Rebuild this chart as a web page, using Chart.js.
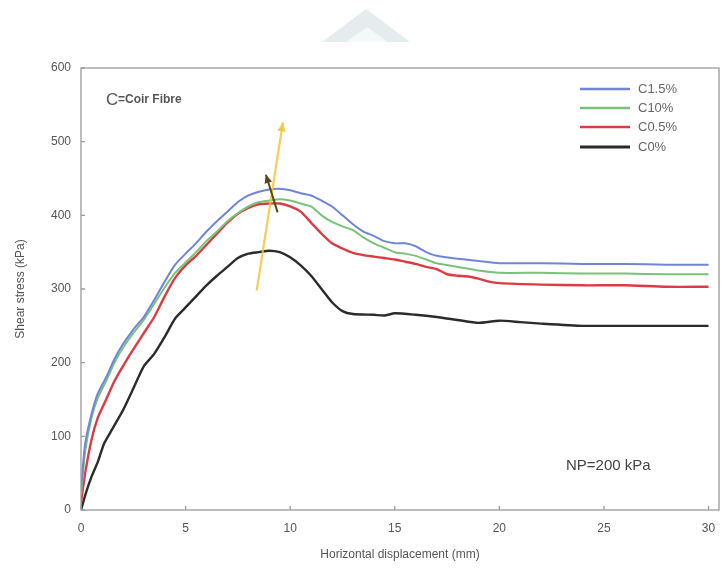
<!DOCTYPE html>
<html>
<head>
<meta charset="utf-8">
<script src="https://cdn.jsdelivr.net/npm/chart.js@4.4.1/dist/chart.umd.min.js"></script>
<style>
  html, body { margin: 0; padding: 0; background: #fff; }
  #wrap { width: 721px; height: 576px; position: relative; }
</style>
</head>
<body>
<div id="wrap"><canvas id="shear"></canvas></div>
<script>
// series data (x = horizontal displacement mm, y = shear stress kPa)
var xC15 = [0, 0.2, 0.5, 0.8, 1.2, 1.6, 2.0, 2.5, 3.0, 3.5, 4.0, 4.5, 5.0, 5.5, 6.0, 6.5, 7.0, 7.5, 8.0, 8.5, 9.0, 9.5, 10.0, 10.5, 11.0, 11.5, 12.0, 12.5, 13.0, 13.5, 14.0, 14.5, 15.0, 15.5, 16.0, 16.5, 17.0, 18.0, 19.0, 20.0, 22.0, 24.0, 26.0, 28.0, 30.0];
var yC15 = [30, 90, 130, 158, 180, 205, 225, 245, 262, 285, 310, 333, 348, 362, 378, 392, 405, 418, 427, 432, 435, 436, 434, 430, 427, 420, 412, 400, 388, 378, 372, 365, 362, 362, 358, 350, 345, 341, 338, 335, 335, 334, 334, 333, 333];

var xC10 = [0, 0.2, 0.5, 0.8, 1.2, 1.6, 2.0, 2.5, 3.0, 3.5, 4.0, 4.5, 5.0, 5.5, 6.0, 6.5, 7.0, 7.5, 8.0, 8.5, 9.0, 9.5, 10.0, 10.5, 11.0, 11.5, 12.0, 12.5, 13.0, 13.5, 14.0, 14.5, 15.0, 15.5, 16.0, 16.5, 17.0, 18.0, 19.0, 20.0, 22.0, 24.0, 26.0, 28.0, 30.0];
var yC10 = [20, 80, 125, 152, 175, 200, 220, 240, 258, 280, 302, 322, 336, 350, 365, 378, 392, 403, 412, 418, 420, 422, 420, 416, 412, 400, 391, 385, 380, 370, 362, 356, 350, 348, 345, 340, 335, 330, 325, 322, 322, 321, 321, 320, 320];

var xC05 = [0, 0.2, 0.5, 0.8, 1.2, 1.6, 2.0, 2.5, 3.0, 3.5, 4.0, 4.5, 5.0, 5.5, 6.0, 6.5, 7.0, 7.5, 8.0, 8.5, 9.0, 9.5, 10.0, 10.5, 11.0, 11.5, 12.0, 12.5, 13.0, 13.5, 14.0, 14.5, 15.0, 15.5, 16.0, 16.5, 17.0, 17.5, 18.0, 18.5, 19.0, 19.5, 20.0, 22.0, 24.0, 26.0, 28.0, 30.0];
var yC05 = [10, 50, 95, 125, 150, 175, 195, 218, 240, 262, 290, 315, 332, 345, 360, 375, 390, 402, 410, 415, 416, 416, 412, 405, 390, 375, 362, 355, 349, 346, 344, 342, 340, 337, 334, 330, 327, 320, 318, 317, 314, 310, 308, 306, 305, 305, 303, 303];

var xC0 = [0, 0.2, 0.5, 0.8, 1.1, 1.5, 2.0, 2.5, 3.0, 3.5, 4.0, 4.5, 5.0, 5.5, 6.0, 6.5, 7.0, 7.5, 8.0, 8.5, 9.0, 9.5, 10.0, 10.5, 11.0, 11.5, 12.0, 12.5, 13.0, 14.0, 14.5, 15.0, 16.0, 17.0, 18.0, 19.0, 20.0, 21.0, 22.0, 24.0, 26.0, 28.0, 30.0];
var yC0 = [0, 20, 45, 65, 90, 110, 135, 165, 195, 212, 235, 260, 275, 290, 305, 318, 330, 342, 348, 350, 352, 350, 343, 332, 318, 300, 282, 270, 266, 265, 264, 267, 265, 262, 258, 254, 257, 255, 253, 250, 250, 250, 250];

var seriesLabels = ["C1.5%", "C10%", "C0.5%", "C0%"];
var xTickValues = [0, 5, 10, 15, 20, 25, 30];

// trend arrows drawn over the curves, in data units [x0, y0, x1, y1]
var yellowArrow = [8.4, 298, 9.65, 526];
var darkArrow = [9.4, 404, 8.84, 455];

function pts(xs, ys) {
    var out = [];
    for (var i = 0; i < xs.length; i++) out.push({x: xs[i], y: ys[i]});
    return out;
}

var colors = ["#6f86d6", "#79c27a", "#dc3b44", "#2b2b2b"];

function arrow(ctx, sx, sy, ex, ey, color, width, head) {
    ctx.save();
    ctx.strokeStyle = color;
    ctx.fillStyle = color;
    ctx.lineWidth = width;
    ctx.beginPath();
    ctx.moveTo(sx, sy);
    ctx.lineTo(ex, ey);
    ctx.stroke();
    var a = Math.atan2(ey - sy, ex - sx);
    ctx.beginPath();
    ctx.moveTo(ex, ey);
    ctx.lineTo(ex - head * Math.cos(a - 0.45), ey - head * Math.sin(a - 0.45));
    ctx.lineTo(ex - head * Math.cos(a + 0.45), ey - head * Math.sin(a + 0.45));
    ctx.closePath();
    ctx.fill();
    ctx.restore();
}

var extras = {
    id: "extras",
    beforeDraw: function(chart) {
        var ctx = chart.ctx;
        // faint watermark roof at the top
        ctx.save();
        ctx.fillStyle = "#e4ecee";
        ctx.beginPath();
        ctx.moveTo(322, 42); ctx.lineTo(366, 9); ctx.lineTo(410, 42);
        ctx.closePath();
        ctx.fill();
        ctx.fillStyle = "#f5f8f8";
        ctx.beginPath();
        ctx.moveTo(346, 42); ctx.lineTo(367, 27); ctx.lineTo(388, 42);
        ctx.closePath();
        ctx.fill();
        ctx.restore();
    },
    afterDraw: function(chart) {
        var ctx = chart.ctx;
        var a = chart.chartArea;
        var xs = chart.scales.x, ys = chart.scales.y;

        // frame and inner tick marks
        ctx.save();
        ctx.strokeStyle = "#9a9a9a";
        ctx.lineWidth = 1.3;
        ctx.strokeRect(a.left, a.top, a.right - a.left, a.bottom - a.top);
        ctx.beginPath();
        xTickValues.forEach(function(v) {
            var px = xs.getPixelForValue(v);
            ctx.moveTo(px, a.bottom); ctx.lineTo(px, a.bottom - 4);
        });
        ys.ticks.forEach(function(t) {
            var py = ys.getPixelForValue(t.value);
            ctx.moveTo(a.left, py); ctx.lineTo(a.left + 4, py);
        });
        ctx.stroke();
        ctx.restore();

        // arrows
        arrow(ctx, xs.getPixelForValue(yellowArrow[0]), ys.getPixelForValue(yellowArrow[1]),
              xs.getPixelForValue(yellowArrow[2]), ys.getPixelForValue(yellowArrow[3]),
              "rgba(242,196,64,0.85)", 2.2, 10);
        arrow(ctx, xs.getPixelForValue(darkArrow[0]), ys.getPixelForValue(darkArrow[1]),
              xs.getPixelForValue(darkArrow[2]), ys.getPixelForValue(darkArrow[3]),
              "#5a4616", 2, 9);

        // legend in upper right
        ctx.save();
        ctx.textBaseline = "middle";
        ctx.font = "13px 'Liberation Sans', Arial, sans-serif";
        var rowsY = [89, 108, 127, 147];
        for (var i = 0; i < seriesLabels.length; i++) {
            ctx.strokeStyle = colors[i];
            ctx.lineWidth = i == 3 ? 3 : 2.5;
            ctx.beginPath();
            ctx.moveTo(580, rowsY[i]); ctx.lineTo(630, rowsY[i]);
            ctx.stroke();
            ctx.fillStyle = "#666";
            ctx.fillText(seriesLabels[i], 638, rowsY[i]);
        }
        ctx.restore();

        // annotations
        ctx.save();
        ctx.textBaseline = "middle";
        ctx.fillStyle = "#555";
        ctx.font = "17px 'Liberation Sans', Arial, sans-serif";
        ctx.fillText("C", 106, 100);
        ctx.font = "bold 12px 'Liberation Sans', Arial, sans-serif";
        ctx.fillText("=Coir Fibre", 118, 100);
        ctx.fillStyle = "#444";
        ctx.font = "15px 'Liberation Sans', Arial, sans-serif";
        ctx.fillText("NP=200 kPa", 566, 466);
        ctx.restore();
    }
};

var font = {family: "'Liberation Sans', Arial, sans-serif", size: 12};

var chartData = {
    type: "line",
    data: {
        datasets: [
            {label: seriesLabels[0], data: pts(xC15, yC15), borderColor: colors[0], borderWidth: 2},
            {label: seriesLabels[1], data: pts(xC10, yC10), borderColor: colors[1], borderWidth: 2},
            {label: seriesLabels[2], data: pts(xC05, yC05), borderColor: colors[2], borderWidth: 2.4},
            {label: seriesLabels[3], data: pts(xC0, yC0), borderColor: colors[3], borderWidth: 2.4}
        ]
    },
    options: {
        responsive: true,
        maintainAspectRatio: false,
        animation: false,
        elements: {point: {radius: 0}, line: {tension: 0.2, fill: false}},
        layout: {padding: {top: 68, right: 2, left: 0, bottom: 0}},
        plugins: {legend: {display: false}, tooltip: {enabled: false}},
        scales: {
            x: {
                type: "linear",
                min: 0,
                max: 30.5,
                grid: {display: false, drawTicks: false},
                border: {display: false},
                afterBuildTicks: function(scale) {
                    scale.ticks = xTickValues.map(function(v) { return {value: v}; });
                },
                afterFit: function(scale) {
                    scale.height = 66;
                    scale.paddingRight = 0;
                },
                ticks: {color: "#555", font: font, padding: 11, maxRotation: 0},
                title: {display: true, text: "Horizontal displacement (mm)", color: "#555",
                        font: font, padding: {top: 0, bottom: 14}}
            },
            y: {
                min: 0,
                max: 600,
                grid: {display: false, drawTicks: false},
                border: {display: false},
                afterFit: function(scale) { scale.width = 81; },
                ticks: {stepSize: 100, color: "#555", font: font, padding: 10},
                title: {display: true, text: "Shear stress (kPa)", color: "#555",
                        font: font, padding: {top: 13, bottom: 0}}
            }
        }
    },
    plugins: [extras]
};

var myChart = new Chart(document.getElementById("shear").getContext("2d"), chartData);
</script>
</body>
</html>
